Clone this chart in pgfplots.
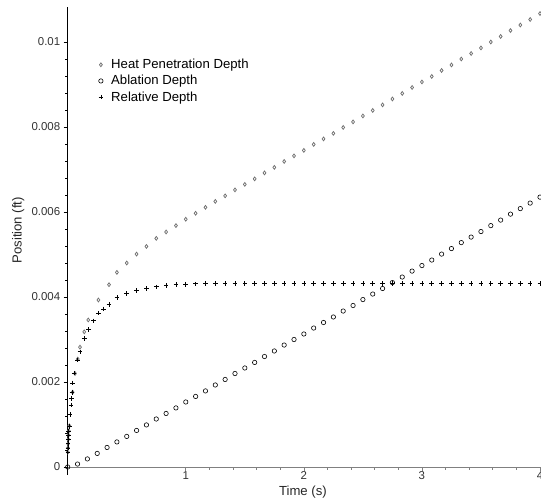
\documentclass[border=0pt]{standalone}
\usepackage{fontspec}
\setmainfont{Liberation Sans}
\usepackage{pgfplots}
\usepackage{pgfplotstable}
\pgfplotsset{compat=1.18}
\definecolor{heatgray}{HTML}{707070}
\definecolor{axgray}{HTML}{808080}
\pgfplotstableread{
t h
0.0010 0.00035
0.0020 0.00045
0.0030 0.00055
0.0045 0.00065
0.0065 0.00075
0.0090 0.00085
0.0140 0.00097
0.0420 0.00176
0.0620 0.00220
0.0850 0.00254
0.1040 0.00282
0.1400 0.00318
0.1740 0.00346
0.2600 0.00393
0.3500 0.00429
0.4167 0.00458
0.5000 0.00480
0.5833 0.00501
0.6667 0.00519
0.7500 0.00538
0.8333 0.00553
0.9167 0.00568
1.0000 0.00583
1.0833 0.00597
1.1667 0.00611
1.2500 0.00625
1.3333 0.00638
1.4167 0.00652
1.5000 0.00665
1.5833 0.00678
1.6667 0.00692
1.7500 0.00705
1.8333 0.00719
1.9167 0.00732
2.0000 0.00745
2.0833 0.00759
2.1667 0.00772
2.2500 0.00785
2.3333 0.00799
2.4167 0.00812
2.5000 0.00826
2.5833 0.00839
2.6667 0.00852
2.7500 0.00866
2.8333 0.00879
2.9167 0.00893
3.0000 0.00906
3.0833 0.00919
3.1667 0.00933
3.2500 0.00946
3.3333 0.00960
3.4167 0.00973
3.5000 0.00986
3.5833 0.01000
3.6667 0.01013
3.7500 0.01027
3.8333 0.01040
3.9167 0.01053
4.0000 0.01067
}\heat
\pgfplotstableread{
t a
0.0000 0.00000
0.0833 0.00007
0.1667 0.00019
0.2500 0.00032
0.3333 0.00046
0.4167 0.00059
0.5000 0.00072
0.5833 0.00086
0.6667 0.00099
0.7500 0.00113
0.8333 0.00126
0.9167 0.00139
1.0000 0.00153
1.0833 0.00166
1.1667 0.00179
1.2500 0.00193
1.3333 0.00206
1.4167 0.00220
1.5000 0.00233
1.5833 0.00246
1.6667 0.00260
1.7500 0.00273
1.8333 0.00287
1.9167 0.00300
2.0000 0.00313
2.0833 0.00327
2.1667 0.00340
2.2500 0.00353
2.3333 0.00367
2.4167 0.00380
2.5000 0.00394
2.5833 0.00407
2.6667 0.00420
2.7500 0.00434
2.8333 0.00447
2.9167 0.00461
3.0000 0.00474
3.0833 0.00487
3.1667 0.00501
3.2500 0.00514
3.3333 0.00528
3.4167 0.00541
3.5000 0.00554
3.5833 0.00568
3.6667 0.00581
3.7500 0.00595
3.8333 0.00608
3.9167 0.00621
4.0000 0.00635
}\abl
\pgfplotstableread{
t r
0.0010 0.00035
0.0020 0.00045
0.0030 0.00055
0.0045 0.00065
0.0065 0.00075
0.0090 0.00085
0.0140 0.00096
0.0190 0.00124
0.0280 0.00146
0.0320 0.00161
0.0360 0.00175
0.0420 0.00198
0.0550 0.00221
0.0850 0.00252
0.1040 0.00271
0.1400 0.00303
0.1740 0.00324
0.2170 0.00344
0.2600 0.00362
0.3050 0.00372
0.3500 0.00383
0.4167 0.00399
0.5000 0.00408
0.5833 0.00415
0.6667 0.00420
0.7500 0.00424
0.8333 0.00427
0.9167 0.00429
1.0000 0.00430
1.0833 0.00431
1.1667 0.00432
1.2500 0.00432
1.3333 0.00432
1.4167 0.00432
1.5000 0.00432
1.5833 0.00432
1.6667 0.00432
1.7500 0.00432
1.8333 0.00432
1.9167 0.00432
2.0000 0.00432
2.0833 0.00432
2.1667 0.00432
2.2500 0.00432
2.3333 0.00432
2.4167 0.00432
2.5000 0.00432
2.5833 0.00432
2.6667 0.00432
2.7500 0.00432
2.8333 0.00432
2.9167 0.00432
3.0000 0.00432
3.0833 0.00432
3.1667 0.00432
3.2500 0.00432
3.3333 0.00432
3.4167 0.00432
3.5000 0.00432
3.5833 0.00432
3.6667 0.00432
3.7500 0.00432
3.8333 0.00432
3.9167 0.00432
4.0000 0.00432
}\rel
\begin{document}
\begin{tikzpicture}[x=1bp,y=1bp]
\useasboundingbox (0,0) rectangle (541,502);
\begin{axis}[
  at={(67.7bp,27bp)}, anchor=south west,
  scale only axis, width=472.3bp, height=468bp,
  xmin=0, xmax=4, ymin=-0.000188, ymax=0.010824,
  axis lines=middle,
  axis line style={-, line width=0.8bp},
  x axis line style={draw=axgray},
  y axis line style={draw=black},
  clip=false,
  xtick={1,2,3,4},
  ytick={0,0.002,0.004,0.006,0.008,0.01},
  yticklabels={0,0.002,0.004,0.006,0.008,0.01},
  minor x tick num=4, minor y tick num=4,
  hide obscured y ticks=false,
  tick align=outside,
  major tick length=4bp, minor tick length=2.5bp,
  xtick style={draw=axgray, line width=0.7bp},
  ytick style={draw=black, line width=0.7bp},
  ticklabel style={font=\fontsize{11.5}{13}\selectfont, text=black!80},
  xticklabel style={yshift=3bp},
  /pgf/number format/assume math mode=true,
  xlabel={Time (s)}, ylabel={Position (ft)},
  label style={font=\fontsize{13.2}{15}\selectfont, text=black!85},
  xlabel style={at={(axis description cs:0.498,-0.036)}, anchor=center},
  ylabel style={at={(axis description cs:-0.105,0.523)}, anchor=center, rotate=90},
  legend style={at={(axis description cs:0.065,0.893)}, anchor=north west,
    draw=none, fill=none, font=\fontsize{13.2}{15}\selectfont,
    row sep=1.2bp, inner sep=0pt,
    /tikz/every odd column/.append style={column sep=6bp}},
  legend cell align=left,
]
\addplot[only marks, mark=diamond, mark size=1.9bp, draw=heatgray, line width=0.75bp, mark options={fill=black!20}] table[x=t,y=h] {\heat};
\addlegendentry{Heat Penetration Depth}
\addplot[only marks, mark=o, mark size=2.2bp, draw=black, line width=0.6bp] table[x=t,y=a] {\abl};
\addlegendentry{Ablation Depth}
\addplot[only marks, mark=+, mark size=2.3bp, draw=black, line width=0.7bp] table[x=t,y=r] {\rel};
\addlegendentry{Relative Depth}
\end{axis}
\end{tikzpicture}
\end{document}
